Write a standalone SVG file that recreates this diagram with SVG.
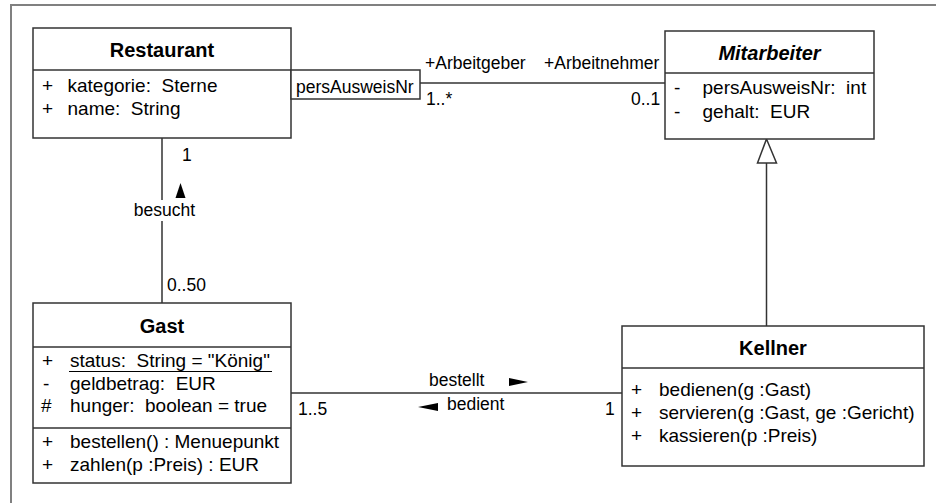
<svg xmlns="http://www.w3.org/2000/svg" width="936" height="503" viewBox="0 0 936 503">
<style>
text{font-family:"Liberation Sans",Arial,sans-serif;fill:#000}
.t{font-size:20px;font-weight:bold;text-anchor:middle}
.m{font-size:19px}
.l{font-size:17.5px}
.box{fill:#fff;stroke:#333;stroke-width:1.5}
.div{stroke:#333;stroke-width:1.5}
.c{stroke:#333;stroke-width:1.5;fill:none}
.frame{stroke:#808080;stroke-width:2;fill:none}
</style>
<rect x="0" y="0" width="936" height="503" fill="#fff"/>
<path class="frame" d="M11,503 V5 H936"/>
<g id="connectors">
<path class="c" d="M420,83 H665"/>
<path class="c" d="M162,138 V200 M162,221 V303"/>
<path class="c" d="M291,393 H622"/>
<path class="c" d="M766.5,163 V326"/>
<polygon points="766.5,139 776.5,163 757.5,163" fill="#fff" stroke="#333" stroke-width="1.5"/>
<polygon points="180.5,183 185.5,198 175.5,198" fill="#000"/>
<polygon points="528,382 509,378 509,386" fill="#000"/>
<polygon points="418,407 438,403 438,411" fill="#000"/>
<text class="l" x="425" y="69">+Arbeitgeber</text>
<text class="l" x="544" y="69">+Arbeitnehmer</text>
<text class="l" x="426" y="105">1..*</text>
<text class="l" x="631" y="105">0..1</text>
<text class="l" x="182" y="161">1</text>
<text class="l" x="164.5" y="216" text-anchor="middle">besucht</text>
<text class="l" x="167" y="291">0..50</text>
<text class="l" x="429" y="386">bestellt</text>
<text class="l" x="447" y="410">bedient</text>
<text class="l" x="298" y="415">1..5</text>
<text class="l" x="605" y="415">1</text>
</g>
<g id="restaurant">
<rect class="box" x="33" y="28" width="258" height="110"/>
<line class="div" x1="33" y1="70" x2="291" y2="70"/>
<text class="t" x="162" y="57">Restaurant</text>
<text class="m" x="42" y="92">+</text>
<text class="m" x="67.5" y="92" xml:space="preserve">kategorie:  Sterne</text>
<text class="m" x="42" y="115">+</text>
<text class="m" x="67.5" y="115" xml:space="preserve">name:  String</text>
</g>
<g id="qualifier">
<rect class="box" x="291" y="70" width="129" height="29"/>
<text class="l" x="296" y="93">persAusweisNr</text>
</g>
<g id="mitarbeiter">
<rect class="box" x="665" y="31" width="209" height="108"/>
<line class="div" x1="665" y1="73" x2="874" y2="73"/>
<text class="t" x="769.5" y="60" font-style="italic">Mitarbeiter</text>
<text class="m" x="674" y="94">-</text>
<text class="m" x="702.5" y="94" xml:space="preserve">persAusweisNr:  int</text>
<text class="m" x="674" y="118">-</text>
<text class="m" x="702.5" y="118" xml:space="preserve">gehalt:  EUR</text>
</g>
<g id="gast">
<rect class="box" x="33" y="303" width="258" height="180"/>
<line class="div" x1="33" y1="347" x2="291" y2="347"/>
<line class="div" x1="33" y1="428" x2="291" y2="428"/>
<text class="t" x="162" y="333">Gast</text>
<text class="m" x="42" y="366.5">+</text>
<text class="m" x="70" y="366.5" xml:space="preserve">status:  String = "König"</text>
<line x1="69" y1="371.5" x2="272" y2="371.5" stroke="#000" stroke-width="1.2"/>
<text class="m" x="43" y="390">-</text>
<text class="m" x="70" y="390" xml:space="preserve">geldbetrag:  EUR</text>
<text class="m" x="41" y="412">#</text>
<text class="m" x="70" y="412" xml:space="preserve">hunger:  boolean = true</text>
<text class="m" x="42" y="447.5">+</text>
<text class="m" x="70" y="447.5">bestellen() : Menuepunkt</text>
<text class="m" x="42" y="470.5">+</text>
<text class="m" x="70" y="470.5">zahlen(p :Preis) : EUR</text>
</g>
<g id="kellner">
<rect class="box" x="622" y="326" width="302" height="140"/>
<line class="div" x1="622" y1="368" x2="924" y2="368"/>
<text class="t" x="773" y="355">Kellner</text>
<text class="m" x="631" y="396">+</text>
<text class="m" x="659" y="396">bedienen(g :Gast)</text>
<text class="m" x="631" y="419">+</text>
<text class="m" x="659" y="419">servieren(g :Gast, ge :Gericht)</text>
<text class="m" x="631" y="442">+</text>
<text class="m" x="659" y="442">kassieren(p :Preis)</text>
</g>
</svg>
